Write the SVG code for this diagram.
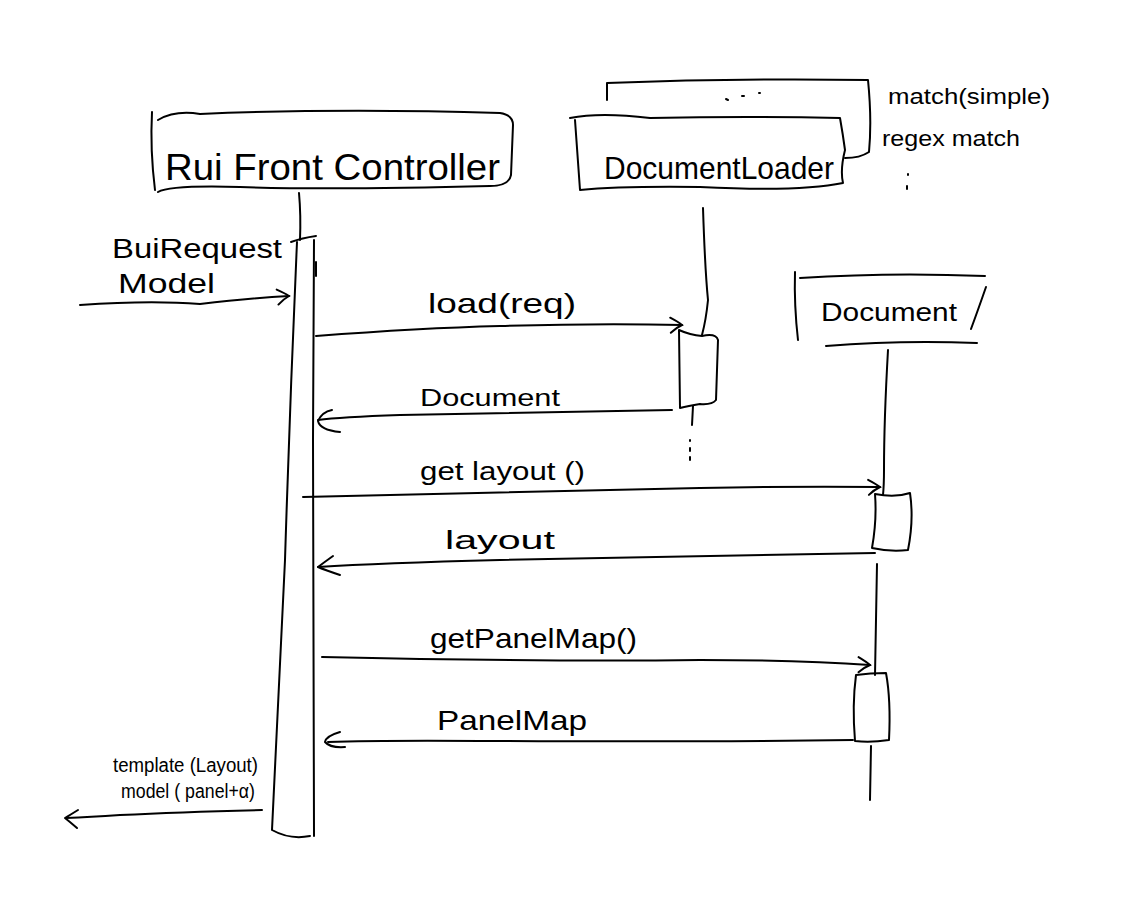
<svg xmlns="http://www.w3.org/2000/svg" width="1123" height="917" viewBox="0 0 1123 917">
<style>
.s{fill:none;stroke:#000;stroke-width:2;stroke-linecap:round;stroke-linejoin:round}
.t{font-family:"Liberation Sans",Arial,sans-serif;fill:#000}
</style>
<defs>
<marker id="ah" viewBox="0 0 20 20" refX="16" refY="10" markerWidth="20" markerHeight="20" markerUnits="userSpaceOnUse" orient="auto">
<path d="M4,3 Q12,7 16,10 Q10,13 5,18" fill="none" stroke="#000" stroke-width="2" stroke-linecap="round"/>
</marker>
</defs>
<rect width="1123" height="917" fill="#fff"/>

<g id="controller">
<path class="s" d="M152,112 Q150,150 155,190"/>
<path class="s" d="M158,120 Q175,110 200,114 Q340,108 500,113 Q513,115 513,125 L511,175 Q509,186 490,186 Q330,190 240,187 Q170,185 158,192"/>
<text class="t" x="165" y="180" font-size="36" textLength="335" lengthAdjust="spacingAndGlyphs">Rui Front Controller</text>
<path class="s" d="M299,193 Q301,215 300,240"/>
</g>

<g id="controller-activation">
<path class="s" d="M291,242 Q302,238 316,236"/>
<path class="s" d="M297,242 Q290,400 285,560 Q278,700 272,830 Q290,840 310,836"/>
<path class="s" d="M314,240 L313,440 Q313,640 314,836"/>
<path class="s" d="M316,262 L316,276"/>
</g>

<g id="loader">
<path class="s" d="M607,100 L607,83 Q740,78 868,80 Q872,120 869,152 Q860,158 845,158"/>
<path class="s" d="M726,99 L728,100 M742,96 L744,96 M759,93 L760,93"/>
<path class="s" d="M570,118 Q600,112 650,118 Q750,116 840,118 Q843,135 845,150 Q840,170 843,183 Q800,192 700,187 Q620,186 580,190 Q577,150 575,120"/>
<text class="t" x="604" y="179" font-size="32" textLength="230" lengthAdjust="spacingAndGlyphs">DocumentLoader</text>
<path class="s" d="M703,208 Q705,270 708,300 Q706,320 702,335"/>
</g>

<g id="loader-activation">
<path class="s" d="M679,330 Q690,335 702,336 Q716,333 718,340 L716,400 Q712,405 700,404 Q688,406 680,408 Z"/>
<path class="s" d="M693,406 L692,425"/>
<path class="s" d="M690,440 L690,441 M690,448 L690,451 M690,457 L690,460"/>
</g>

<g id="loader-notes">
<text class="t" x="888" y="104" font-size="22" textLength="162" lengthAdjust="spacingAndGlyphs">match(simple)</text>
<text class="t" x="882" y="146" font-size="22" textLength="138" lengthAdjust="spacingAndGlyphs">regex match</text>
<path class="s" d="M908,174 L908,175 M907,186 L907,189"/>
</g>

<g id="document">
<path class="s" d="M795,272 Q794,305 798,340"/>
<path class="s" d="M800,278 Q890,272 985,276"/>
<path class="s" d="M986,287 Q978,310 971,329"/>
<path class="s" d="M826,346 Q900,340 977,343"/>
<text class="t" x="821" y="321" font-size="26" textLength="136" lengthAdjust="spacingAndGlyphs">Document</text>
<path class="s" d="M888,350 Q884,420 884,470 Q884,485 883,495"/>
</g>

<g id="document-activation">
<path class="s" d="M875,494 Q895,498 910,493 Q914,520 908,550 Q890,552 872,548 Q877,520 875,494 Z"/>
<path class="s" d="M877,564 Q876,620 875,675"/>
<path class="s" d="M856,675 Q870,673 886,673 Q891,700 889,740 Q870,743 855,741 Q852,705 856,675 Z"/>
<path class="s" d="M871,746 L870,800"/>
</g>

<g id="connectors">
<path class="s" d="M80,305 Q150,300 200,304 Q250,298 289,296" marker-end="url(#ah)"/>
<path class="s" d="M316,336 Q420,328 500,326 Q600,323 682,325" marker-end="url(#ah)"/>
<path class="s" d="M672,410 Q500,413 400,415 Q340,417 318,420"/>
<path class="s" d="M340,432 Q320,430 318,421 Q322,412 332,410"/>
<path class="s" d="M303,497 Q500,493 700,488 Q800,486 880,487" marker-end="url(#ah)"/>
<path class="s" d="M875,553 Q700,556 500,560 Q380,563 318,567"/>
<path class="s" d="M340,575 Q325,570 318,567 Q326,561 333,556"/>
<path class="s" d="M322,657 Q550,662 700,660 Q800,660 870,665" marker-end="url(#ah)"/>
<path class="s" d="M853,740 Q700,742 500,741 Q380,740 328,742"/>
<path class="s" d="M340,732 Q326,736 325,742 Q330,748 345,747"/>
<path class="s" d="M262,810 Q180,812 120,815 Q90,817 66,818"/>
<path class="s" d="M78,810 Q70,815 65,818 Q70,822 77,828"/>
</g>

<g id="labels">
<text class="t" x="112" y="258" font-size="27" textLength="170" lengthAdjust="spacingAndGlyphs">BuiRequest</text>
<text class="t" x="118" y="293" font-size="27" textLength="97" lengthAdjust="spacingAndGlyphs">Model</text>
<text class="t" x="428" y="313" font-size="28" textLength="148" lengthAdjust="spacingAndGlyphs">load(req)</text>
<text class="t" x="420" y="406" font-size="24" textLength="140" lengthAdjust="spacingAndGlyphs">Document</text>
<text class="t" x="420" y="480" font-size="26" textLength="165" lengthAdjust="spacingAndGlyphs">get layout ()</text>
<text class="t" x="445" y="549" font-size="26" textLength="110" lengthAdjust="spacingAndGlyphs">layout</text>
<text class="t" x="430" y="648" font-size="28" textLength="207" lengthAdjust="spacingAndGlyphs">getPanelMap()</text>
<text class="t" x="437" y="730" font-size="28" textLength="150" lengthAdjust="spacingAndGlyphs">PanelMap</text>
<text class="t" x="113" y="772" font-size="20" textLength="145" lengthAdjust="spacingAndGlyphs">template (Layout)</text>
<text class="t" x="121" y="798" font-size="20" textLength="134" lengthAdjust="spacingAndGlyphs">model ( panel+α)</text>
</g>
</svg>
